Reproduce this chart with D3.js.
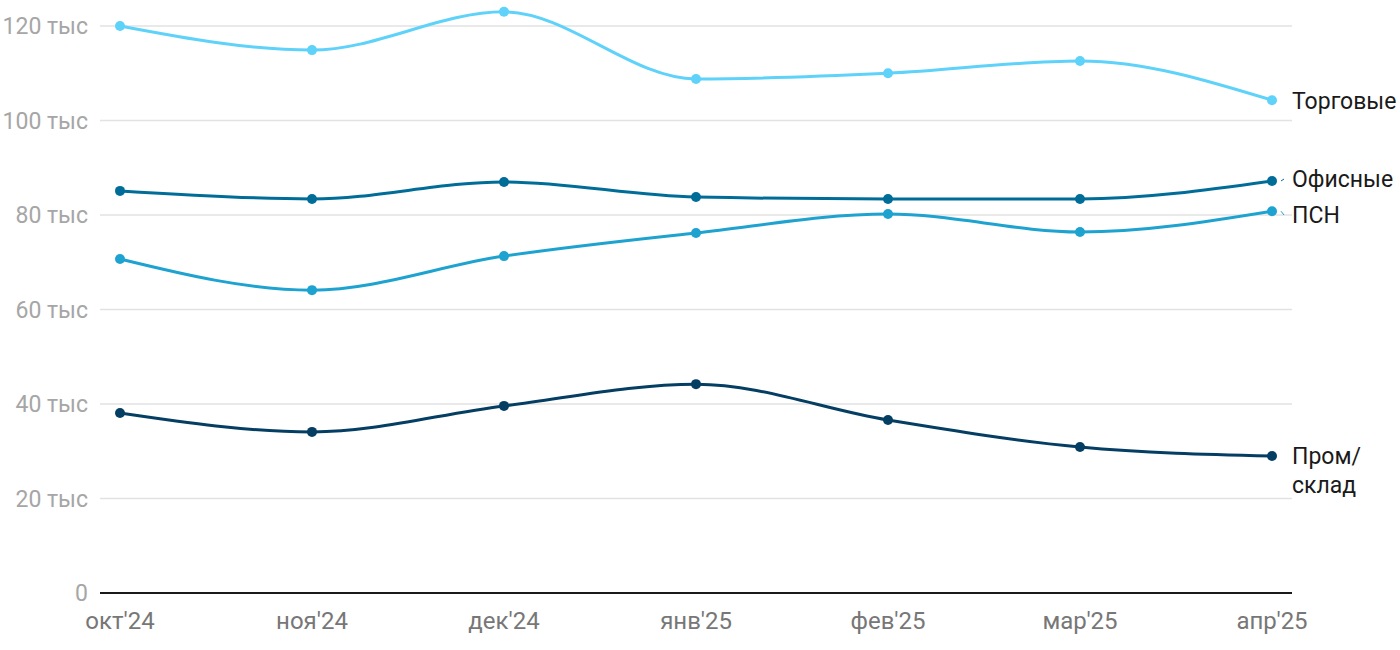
<!DOCTYPE html>
<html>
<head>
<meta charset="utf-8">
<script src="https://cdn.jsdelivr.net/npm/d3@7"></script>
<style>
  body { margin: 0; background: #fff; }
  svg { font-family: Roboto, "Liberation Sans", sans-serif; }
</style>
</head>
<body>
<div id="chart"></div>
<script>
// data
const months = ["окт'24", "ноя'24", "дек'24", "янв'25", "фев'25", "мар'25", "апр'25"];
const yTicks = [0, 20000, 40000, 60000, 80000, 100000, 120000];

const trade = [120000, 114900, 123000, 108800, 110000, 112600, 104300];
const office = [85100, 83400, 87000, 83800, 83400, 83400, 87200];
const psn = [70700, 64100, 71300, 76200, 80200, 76400, 80800];
const warehouse = [38100, 34100, 39600, 44200, 36600, 30900, 29000];

const seriesNames = ["Торговые", "Офисные", "ПСН", "Пром/склад"];
const seriesColors = ["#5fd2fa", "#006d98", "#1ea3d0", "#053e63"];

const width = 1400, height = 650;
const xLeft = 120, xRight = 1272;
const gridLeft = 100, gridRight = 1292;

const svg = d3.select("#chart").append("svg")
    .attr("width", width)
    .attr("height", height);

const x = d3.scalePoint()
    .domain(months)
    .range([xLeft, xRight]);

const y = d3.scaleLinear()
    .domain([0, 120000])
    .range([593, 26]);

// grid
svg.append("g")
    .selectAll("line")
    .data(yTicks.filter(d => d > 0))
    .join("line")
    .attr("x1", gridLeft)
    .attr("x2", gridRight)
    .attr("y1", d => y(d))
    .attr("y2", d => y(d))
    .attr("stroke", "#e2e2e2")
    .attr("stroke-width", 1.5);

// y labels
svg.append("g")
    .selectAll("text")
    .data(yTicks)
    .join("text")
    .attr("x", 88)
    .attr("y", d => y(d))
    .attr("dy", "0.35em")
    .attr("text-anchor", "end")
    .attr("fill", "#a6a6a6")
    .attr("font-size", 23)
    .text(d => d === 0 ? "0" : (d / 1000) + " тыс");

// baseline
svg.append("line")
    .attr("x1", gridLeft)
    .attr("x2", gridRight)
    .attr("y1", y(0))
    .attr("y2", y(0))
    .attr("stroke", "#1a1a1a")
    .attr("stroke-width", 2);

// x labels
svg.append("g")
    .selectAll("text")
    .data(months)
    .join("text")
    .attr("x", d => x(d))
    .attr("y", 629)
    .attr("text-anchor", "middle")
    .attr("fill", "#777")
    .attr("font-size", 24)
    .text(d => d);

const allSeries = [trade, office, psn, warehouse];

const line = d3.line()
    .x((d, i) => x(months[i]))
    .y(d => y(d))
    .curve(d3.curveMonotoneX);

allSeries.forEach((values, k) => {
    const g = svg.append("g");
    g.append("path")
        .attr("d", line(values))
        .attr("fill", "none")
        .attr("stroke", seriesColors[k])
        .attr("stroke-width", 3);
    g.selectAll("circle")
        .data(values)
        .join("circle")
        .attr("cx", (d, i) => x(months[i]))
        .attr("cy", d => y(d))
        .attr("r", 5)
        .attr("fill", seriesColors[k]);
});

// end labels
const labelX = 1292;
const lastIdx = months.length - 1;
const labelY = [101, 179, 215, 456];
seriesNames.forEach((name, k) => {
    const yy = labelY[k];
    const yv = y(allSeries[k][lastIdx]);
    if (Math.abs(yy - yv) > 1.5) {
        svg.append("line")
            .attr("x1", xRight + 9)
            .attr("x2", labelX - 8)
            .attr("y1", yv)
            .attr("y2", yy)
            .attr("stroke", seriesColors[k])
            .attr("stroke-width", 1);
    }
    const parts = name === "Пром/склад" ? ["Пром/", "склад"] : [name];
    const t = svg.append("text")
        .attr("x", labelX)
        .attr("y", yy)
        .attr("fill", "#1a1a1a")
        .attr("font-size", 23);
    parts.forEach((p, j) => {
        t.append("tspan")
            .attr("x", labelX)
            .attr("dy", j === 0 ? "0.35em" : "1.25em")
            .text(p);
    });
});
</script>
</body>
</html>
